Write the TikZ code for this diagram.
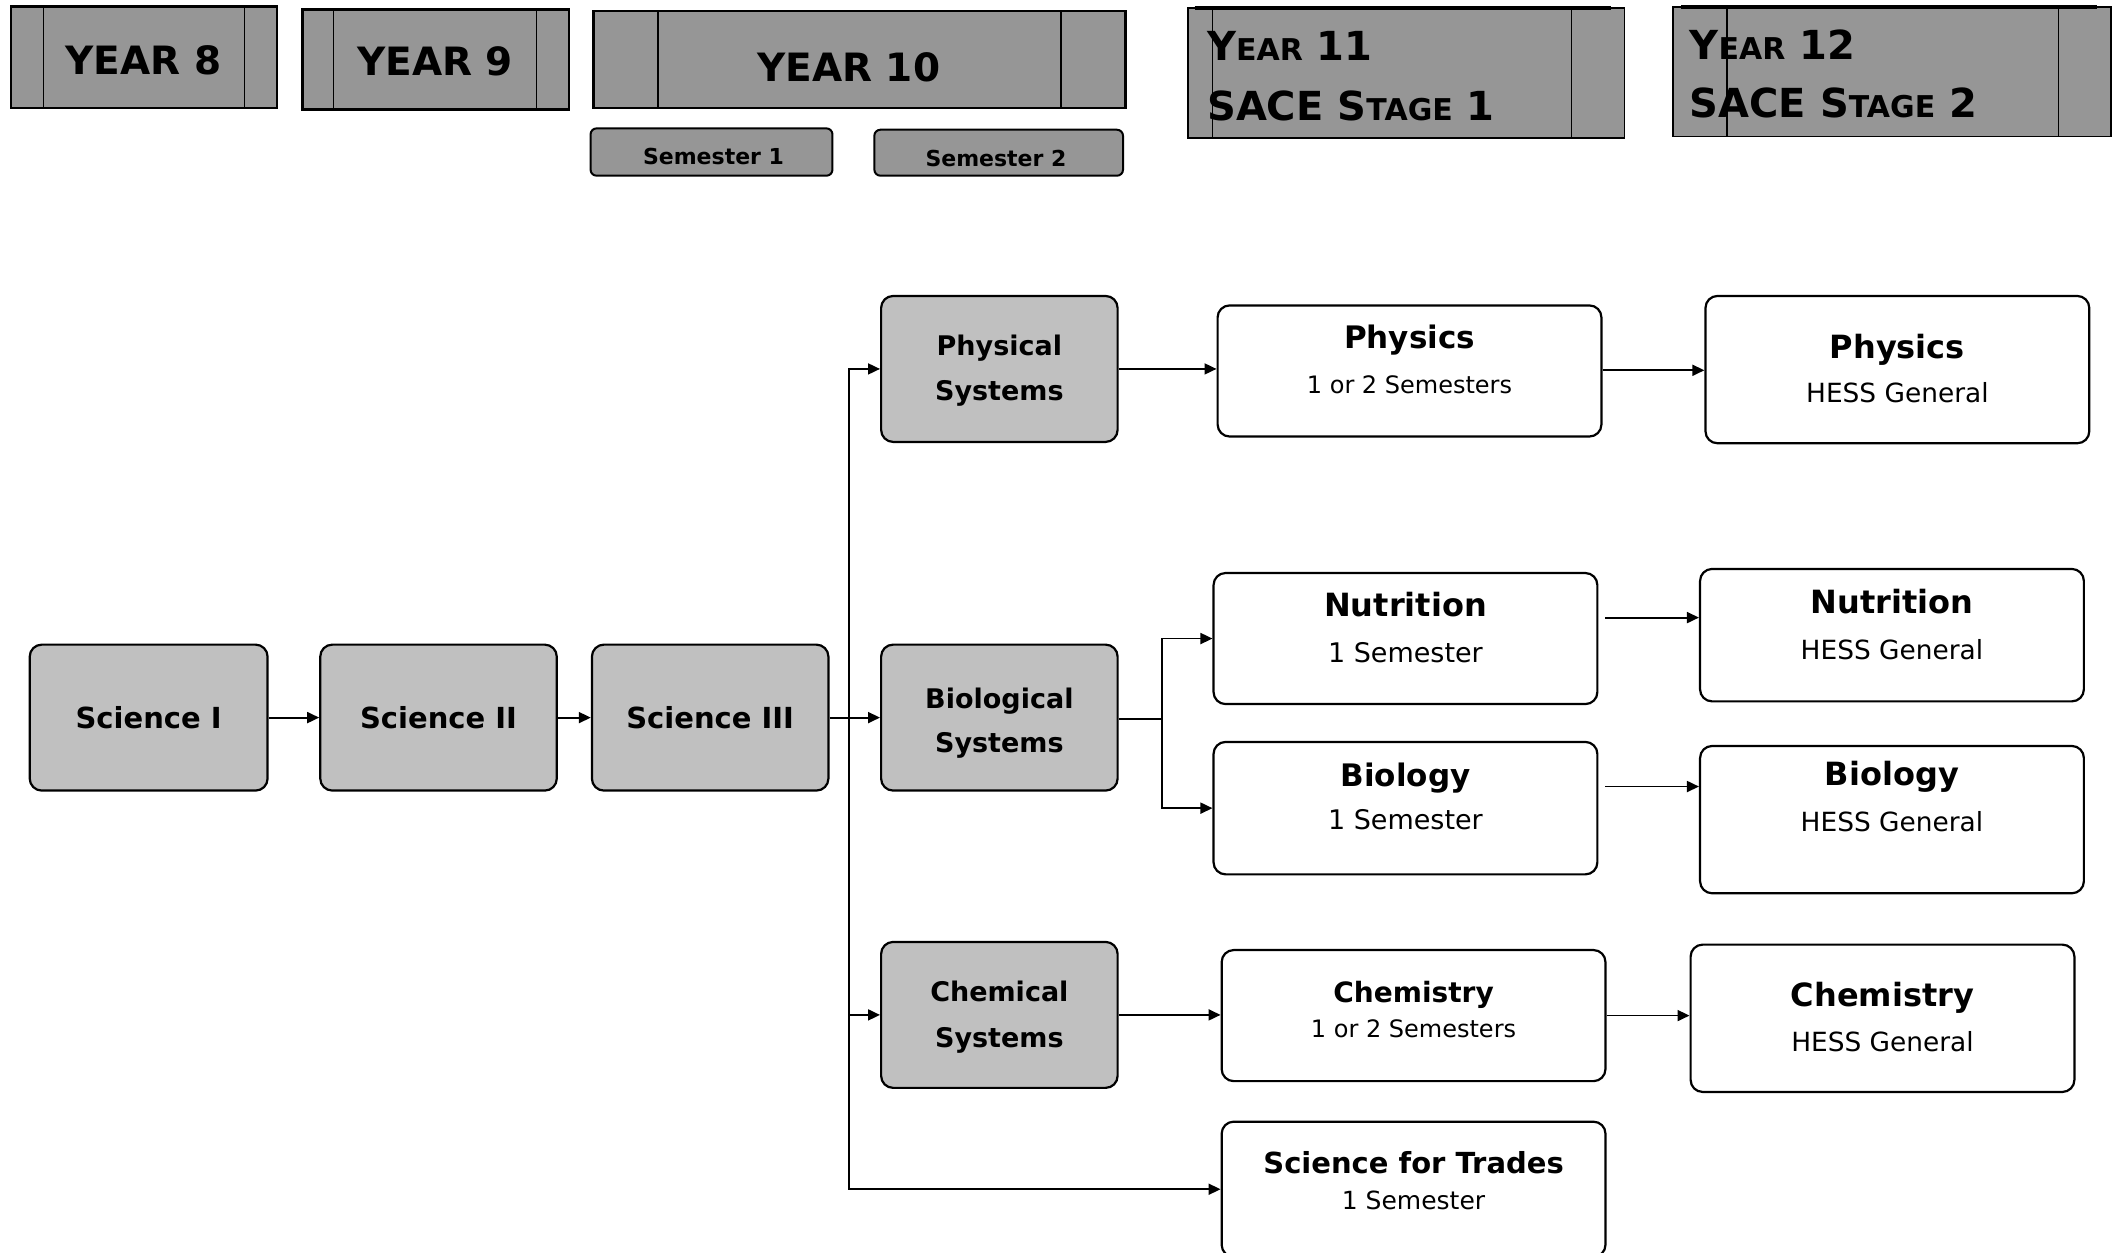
\documentclass[tikz,border=0pt]{standalone}
\usepackage{fontspec}
\setmainfont{DejaVu Sans}
\usetikzlibrary{arrows.meta,calc}
\definecolor{hdrgray}{HTML}{969696}
\definecolor{boxgray}{HTML}{C0C0C0}
\newcommand{\pxu}{0.6757pt}
\newcommand{\sm}[1]{{\fontsize{15}{15}\selectfont #1}}

\begin{document}
\begin{tikzpicture}[x=0.6757pt,y=-0.6757pt,
  hdr/.style={draw=black, line width=1.3pt, fill=hdrgray},
  hdrthin/.style={draw=black, line width=0.8pt, fill=hdrgray},
  divider/.style={draw=black, line width=0.7pt},
  sembox/.style={draw=black, line width=1pt, fill=hdrgray, rounded corners=3pt},
  gbox/.style 2 args={draw=black, line width=1.1pt, fill=boxgray, rounded corners=6pt,
    minimum width=#1*\pxu, minimum height=#2*\pxu, inner sep=0pt},
  wbox/.style 2 args={draw=black, line width=1.1pt, fill=white, rounded corners=6pt,
    minimum width=#1*\pxu, minimum height=#2*\pxu, inner sep=0pt},
  ttl/.style={font=\fontsize{#1}{#1}\selectfont\bfseries, inner sep=0pt, anchor=mid, yshift=-2*\pxu},
  sub/.style={font=\fontsize{#1}{#1}\selectfont, inner sep=0pt, anchor=mid, yshift=-2*\pxu},
  hdrtxt/.style={font=\fontsize{#1}{#1}\selectfont\bfseries, inner sep=0pt, anchor=mid},
  arr/.style={line width=0.9pt, -{Triangle[length=6pt,width=5.5pt]}},
  ln/.style={line width=0.9pt}
]
\useasboundingbox (0,0) rectangle (1568,927);
\clip (0,0) rectangle (1568,927);

% ---------- year headings ----------
\draw[hdr] (8,5) rectangle (205,80);
\draw[divider] (32,5) -- (32,80) (181,5) -- (181,80);
\node[hdrtxt=19.5] (y8) at (106,51) {YEAR 8};

\draw[hdr] (224,7) rectangle (421,81);
\draw[divider] (247,7) -- (247,81) (397,7) -- (397,81);
\node[hdrtxt=19.5] (y9) at (322,52) {YEAR 9};

\draw[hdr] (439,8) rectangle (833,80);
\draw[divider] (487,8) -- (487,80) (785,8) -- (785,80);
\node[hdrtxt=19.5] (y10) at (628,56) {YEAR 10};

\draw[sembox] (437,95) rectangle (616,130);
\node[hdrtxt=11] (sem1) at (528,118) {Semester 1};
\draw[sembox] (647,96) rectangle (831,130);
\node[hdrtxt=11] (sem2) at (737,119) {Semester 2};

\draw[hdrthin] (879,6) rectangle (1202,102);
\draw[line width=1.8pt] (884,6) -- (1192,6);
\draw[divider] (897,6) -- (897,102) (1163,6) -- (1163,102);
\node[hdrtxt=20, anchor=base west] (y11a) at (893,45) {Y\sm{EAR} 11};
\node[hdrtxt=20, anchor=base west] (y11b) at (893,89) {SACE S\sm{TAGE} 1};

\draw[hdrthin] (1238,5) rectangle (1562,101);
\draw[line width=1.8pt] (1244,5) -- (1552,5);
\draw[divider] (1278,5) -- (1278,101) (1523,5) -- (1523,101);
\node[hdrtxt=20, anchor=base west] (y12a) at (1250,44) {Y\sm{EAR} 12};
\node[hdrtxt=20, anchor=base west] (y12b) at (1250,87) {SACE S\sm{TAGE} 2};

% ---------- Years 8 to 10 core ----------
\node[gbox={176}{108}] (sci1) at (110,531) {};
\node[ttl=14.5] (sci1t) at (110,533) {Science I};
\node[gbox={175}{108}] (sci2) at (324.5,531) {};
\node[ttl=14.5] (sci2t) at (324.5,533) {Science II};
\node[gbox={175}{108}] (sci3) at (525.5,531) {};
\node[ttl=14.5] (sci3t) at (525.5,533) {Science III};

% ---------- Year 10 semester units ----------
\node[gbox={175}{108}] (physsys) at (739.5,273) {};
\node[ttl=13.5] (physsysa) at (739.5,257) {Physical};
\node[ttl=13.5] (physsysb) at (739.5,290) {Systems};

\node[gbox={175}{108}] (biosys) at (739.5,531) {};
\node[ttl=13.5] (biosysa) at (739.5,518) {Biological};
\node[ttl=13.5] (biosysb) at (739.5,551) {Systems};

\node[gbox={175}{108}] (chemsys) at (739.5,751) {};
\node[ttl=13.5] (chemsysa) at (739.5,735) {Chemical};
\node[ttl=13.5] (chemsysb) at (739.5,769) {Systems};

% ---------- Year 11 subjects ----------
\node[wbox={284}{97}] (phy1) at (1043,274.5) {};
\node[ttl=15.5] (phy1a) at (1043,252) {Physics};
\node[sub=12] (phy1b) at (1043,285) {1 or 2 Semesters};

\node[wbox={284}{97}] (nut1) at (1040,472.5) {};
\node[ttl=16] (nut1a) at (1040,450) {Nutrition};
\node[sub=13.5] (nut1b) at (1040,484) {1 Semester};

\node[wbox={284}{98}] (bio1) at (1040,598) {};
\node[ttl=15.5] (bio1a) at (1040,576) {Biology};
\node[sub=13.5] (bio1b) at (1040,608) {1 Semester};

\node[wbox={284}{97}] (chem1) at (1046,751.5) {};
\node[ttl=14] (chem1a) at (1046,736) {Chemistry};
\node[sub=12] (chem1b) at (1046,762) {1 or 2 Semesters};

\node[wbox={284}{100}] (trades) at (1046,880) {};
\node[ttl=14.5] (tradesa) at (1046,862) {Science for Trades};
\node[sub=12.5] (tradesb) at (1046,889) {1 Semester};

% ---------- Year 12 subjects ----------
\node[wbox={284}{109}] (phy2) at (1404,273.5) {};
\node[ttl=16] (phy2a) at (1404,259) {Physics};
\node[sub=13.2] (phy2b) at (1404,292) {HESS General};

\node[wbox={284}{98}] (nut2) at (1400,470) {};
\node[ttl=16] (nut2a) at (1400,448) {Nutrition};
\node[sub=13.2] (nut2b) at (1400,482) {HESS General};

\node[wbox={284}{109}] (bio2) at (1400,606.5) {};
\node[ttl=16] (bio2a) at (1400,575) {Biology};
\node[sub=13.2] (bio2b) at (1400,609) {HESS General};

\node[wbox={284}{109}] (chem2) at (1393,753.5) {};
\node[ttl=16] (chem2a) at (1393,739) {Chemistry};
\node[sub=13.2] (chem2b) at (1393,772) {HESS General};

% ---------- connectors ----------
\draw[arr] (sci1) -- (sci2);
\draw[arr] (sci2) -- (sci3);
\draw[arr] (sci3) -- (biosys);

\coordinate (jn) at (628,531);
\draw[arr] (jn) |- (physsys.west);
\draw[arr] (jn) |- (chemsys.west);
\draw[arr] (jn) |- (trades.west);

\draw[arr] (physsys.east) -- (physsys.east -| phy1.west);
\draw[arr] ([yshift=0.5*\pxu]phy1.east) -- ([yshift=0.5*\pxu]phy1.east -| phy2.west);

\coordinate (bj) at (860,532);
\draw[ln] (biosys.east |- bj) -- (bj);
\draw[arr] (bj) |- (nut1.west);
\draw[arr] (bj) |- (bio1.west);

\coordinate (n1s) at ($(nut1.east)+(5,-15.5)$);
\draw[arr] (n1s) -- (n1s -| nut2.west);
\coordinate (b1s) at ($(bio1.east)+(5,-16)$);
\draw[arr] (b1s) -- (b1s -| bio2.west);

\draw[arr] (chemsys.east) -- (chemsys.east -| chem1.west);
\draw[arr] (chem1.east) -- (chem1.east -| chem2.west);
\end{tikzpicture}
\end{document}
